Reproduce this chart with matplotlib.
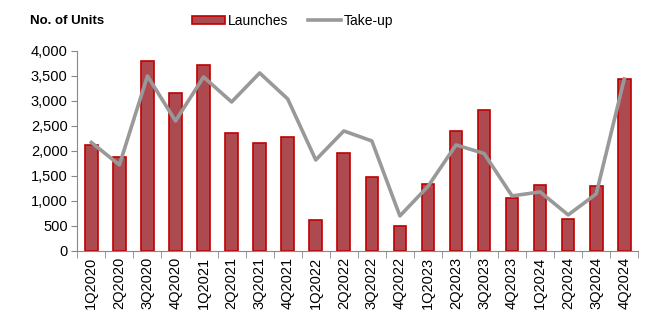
import numpy as np
import matplotlib.pyplot as plt

quarters = ["1Q2020", "2Q2020", "3Q2020", "4Q2020", "1Q2021", "2Q2021", "3Q2021", "4Q2021",
            "1Q2022", "2Q2022", "3Q2022", "4Q2022", "1Q2023", "2Q2023", "3Q2023", "4Q2023",
            "1Q2024", "2Q2024", "3Q2024", "4Q2024"]
launches = [2110, 1880, 3790, 3150, 3720, 2350, 2150, 2280, 620, 1950,
            1470, 500, 1330, 2390, 2810, 1060, 1310, 640, 1290, 3440]
take_up = [2170, 1720, 3500, 2600, 3480, 2980, 3560, 3040, 1820, 2400,
           2200, 700, 1290, 2120, 1950, 1100, 1180, 720, 1140, 3440]

plt.rcParams['font.family'] = ['Liberation Sans', 'DejaVu Sans']

fig = plt.figure(figsize=(6.5, 3.31), dpi=100)
ax = fig.add_axes([0.119, 0.242, 0.863, 0.604])

x = np.arange(len(quarters))
barras = ax.bar(x, launches, width=0.45, color='#ad4a4f', edgecolor='#c00000', linewidth=1.2,
                label='Launches', zorder=2)
linea, = ax.plot(x, take_up, color='#999999', linewidth=2.6, label='Take-up', zorder=3)

ax.set_xlim(-0.5, len(quarters) - 0.5)
ax.set_ylim(0, 4000)
ax.set_yticks(range(0, 4001, 500))
ax.set_yticklabels([f"{v:,}" for v in range(0, 4001, 500)], fontsize=10.5)

# etiquetas en el centro, marcas entre categorias
ax.set_xticks(x)
ax.set_xticklabels(quarters, rotation=90, fontsize=10.5)
ax.tick_params(axis='x', length=0, pad=4)
ax.set_xticks(np.arange(-0.5, len(quarters)), minor=True)
ax.tick_params(axis='x', which='minor', length=5, color='#888888')
ax.tick_params(axis='y', length=4, color='#888888', pad=3)

for s in ['top', 'right']:
    ax.spines[s].set_visible(False)
for s in ['left', 'bottom']:
    ax.spines[s].set_color('#888888')

fig.text(0.046, 0.938, "No. of Units", fontsize=9.5, fontweight='bold', ha='left', va='center')
fig.legend([barras, linea], ['Launches', 'Take-up'], loc='center', bbox_to_anchor=(0.45, 0.938),
           ncol=2, frameon=False, fontsize=10,
           handlelength=2.4, handleheight=0.5, handletextpad=0.2, columnspacing=1.4)

fig.savefig("out.png", dpi=100)
